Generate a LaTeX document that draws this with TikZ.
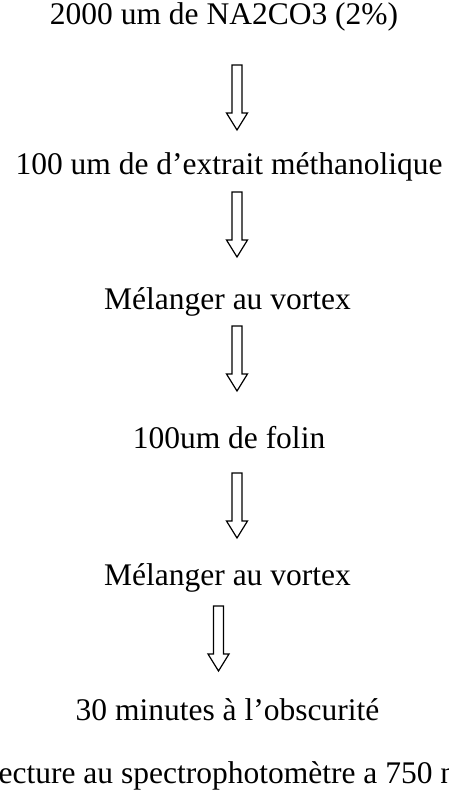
\documentclass[tikz,border=0pt]{standalone}
\usepackage{fontspec}
\setmainfont{Liberation Serif}
\begin{document}
\begin{tikzpicture}[x=1pt,y=-1pt,
  txt/.style={anchor=base, inner sep=0pt, font=\fontsize{31.5}{36}\selectfont},
  blockarrow/.pic={\draw[line width=1.2pt, fill=white, line join=miter]
     (-5,0) -- (5,0) -- (5,48) -- (10.5,48) -- (0,65) -- (-10.5,48) -- (-5,48) -- cycle;}]
\useasboundingbox (0,0) rectangle (448,800);
\fill[white] (0,0) rectangle (448,800);
\clip (0,0) rectangle (448,800);
\node[txt] (l1) at (224,25) {2000 um de NA2CO3 (2\%)};
\node[txt] (l2) at (229,174) {100 um de d’extrait méthanolique};
\node[txt] (l3) at (227.5,309) {Mélanger au vortex};
\node[txt] (l4) at (229,448) {100um de folin};
\node[txt] (l5) at (227.5,585) {Mélanger au vortex};
\node[txt] (l6) at (227.5,720) {30 minutes à l’obscurité};
\node[txt] (l7) at (230,783) {Lecture au spectrophotomètre a 750 nm};
\coordinate (a1) at (237,65);
\coordinate (a2) at (237,192);
\coordinate (a3) at (237,326);
\coordinate (a4) at (237,473);
\coordinate (a5) at (218.5,606);
\foreach \a in {a1,a2,a3,a4,a5} \pic at (\a) {blockarrow};
\end{tikzpicture}
\end{document}
